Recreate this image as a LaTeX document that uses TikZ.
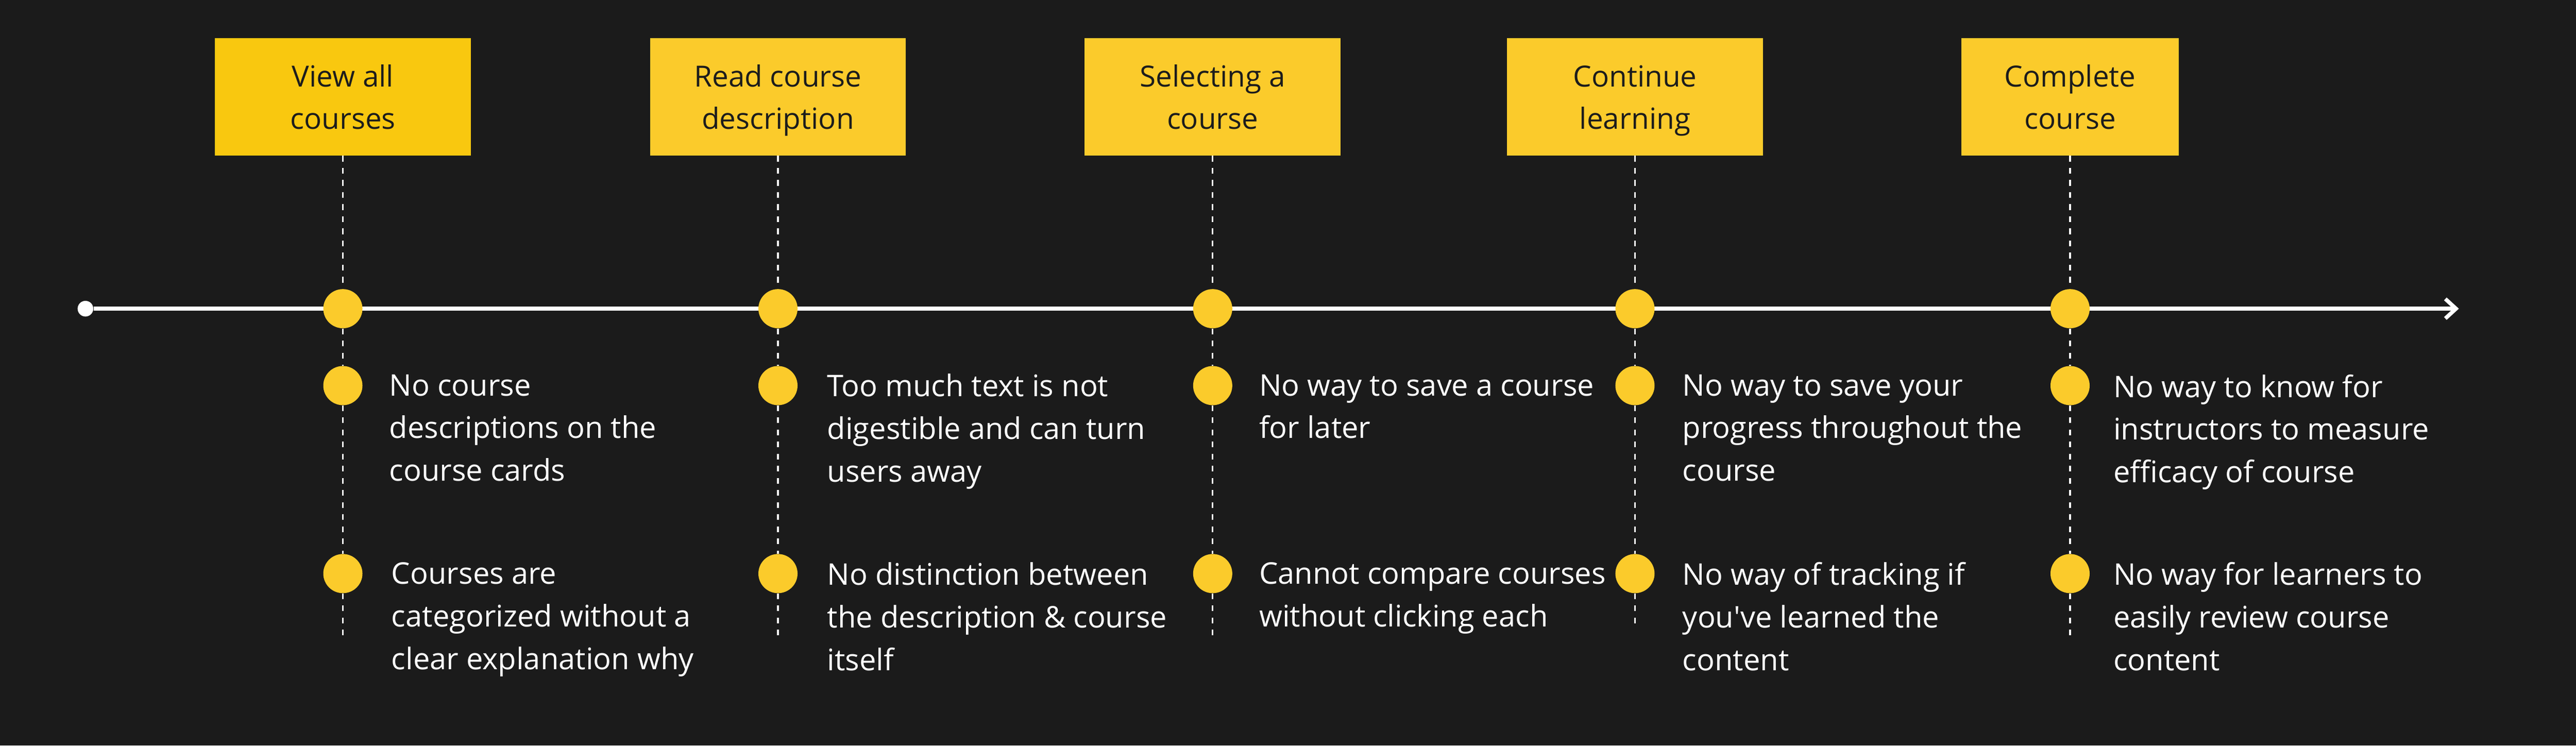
\documentclass[tikz,border=0pt]{standalone}
\usepackage{fontspec}
\setmainfont{Open Sans}
\usetikzlibrary{arrows.meta}
\definecolor{bgdark}{HTML}{1B1B1B}
\definecolor{stageyellow}{HTML}{FBCB2B}
\definecolor{firstyellow}{HTML}{F9C80F}
\definecolor{inkdark}{HTML}{1C1C1C}
\begin{document}
\begin{tikzpicture}[%
stage/.style={rectangle, fill=stageyellow, inner sep=0pt, minimum width=7.19cm,
minimum height=3.3cm, align=center, text=inkdark, font=\fontsize{23.3}{34.1}\selectfont,
text height=2.04cm, text depth=0.22cm},
marker/.style={circle, fill=stageyellow, inner sep=0pt, minimum size=1.1cm},
issue/.style={anchor=north west, inner sep=0pt, align=left, text=white,
font=\fontsize{23.8}{34.1}\selectfont},
guide/.style={white, line width=1.3pt, dash pattern=on 0.16cm off 0.18cm},
timeline/.style={white, line width=3.1pt, -{Straight Barb[length=0.3cm,width=0.55cm]}}]
\fill[bgdark] (0,0) rectangle (72.35,-20.94);
\node (start) at (2.40,-8.67) [circle, fill=white, inner sep=0pt, minimum size=0.44cm] {};
\coordinate (tlend) at (69.06,-8.67);
\draw[timeline] (start) -- (tlend);
\node (viewAll) at (9.63,-2.72) [stage, fill=firstyellow] {View all\\courses};
\node (readDesc) at (21.85,-2.72) [stage] {Read course\\description};
\node (selCourse) at (34.06,-2.72) [stage] {Selecting a\\course};
\node (contLearn) at (45.92,-2.72) [stage] {Continue\\learning};
\node (complCourse) at (58.14,-2.72) [stage, minimum width=6.12cm] {Complete\\course};
\node (mView) at (9.63,-8.67) [marker] {};
\node (mRead) at (21.85,-8.67) [marker] {};
\node (mSel) at (34.06,-8.67) [marker] {};
\node (mCont) at (45.92,-8.67) [marker] {};
\node (mCompl) at (58.14,-8.67) [marker] {};
\node (pView1) at (9.63,-10.83) [marker] {};
\node (pView2) at (9.63,-16.11) [marker] {};
\node (pRead1) at (21.85,-10.83) [marker] {};
\node (pRead2) at (21.85,-16.11) [marker] {};
\node (pSel1) at (34.06,-10.83) [marker] {};
\node (pSel2) at (34.06,-16.11) [marker] {};
\node (pCont1) at (45.92,-10.83) [marker] {};
\node (pCont2) at (45.92,-16.11) [marker] {};
\node (pCompl1) at (58.14,-10.83) [marker] {};
\node (pCompl2) at (58.14,-16.11) [marker] {};
\node (tView1) at (10.93,-10.51) [issue] {No course\\descriptions on the\\course cards};
\node (tView2) at (10.99,-15.79) [issue] {Courses are\\categorized without a\\clear explanation why};
\node (tRead1) at (23.23,-10.49) [issue] {Too much text is not\\digestible and can turn\\users away};
\node (tRead2) at (23.23,-15.79) [issue] {No distinction between\\the description \& course\\itself};
\node (tSel1) at (35.36,-10.51) [issue] {No way to save a course\\for later};
\node (tSel2) at (35.36,-15.79) [issue] {Cannot compare courses\\without clicking each};
\node (tCont1) at (47.25,-10.51) [issue] {No way to save your\\progress throughout the\\course};
\node (tCont2) at (47.25,-15.79) [issue] {No way of tracking if\\you\textquotesingle ve learned the\\content};
\node (tCompl1) at (59.35,-10.51) [issue] {No way to know for\\instructors to measure\\efficacy of course};
\node (tCompl2) at (59.35,-15.79) [issue] {No way for learners to\\easily review course\\content};
\coordinate (eView) at (9.63,-17.87);
\coordinate (eRead) at (21.85,-17.87);
\coordinate (eSel) at (34.06,-17.87);
\coordinate (eCont) at (45.92,-17.63);
\coordinate (eCompl) at (58.14,-17.87);
\draw[guide] (viewAll.south) -- (mView.north);
\draw[guide] (mView.south) -- (pView1.north);
\draw[guide] (pView1.south) -- (pView2.north);
\draw[guide] (pView2.south) -- (eView);
\draw[guide] (readDesc.south) -- (mRead.north);
\draw[guide] (mRead.south) -- (pRead1.north);
\draw[guide] (pRead1.south) -- (pRead2.north);
\draw[guide] (pRead2.south) -- (eRead);
\draw[guide] (selCourse.south) -- (mSel.north);
\draw[guide] (mSel.south) -- (pSel1.north);
\draw[guide] (pSel1.south) -- (pSel2.north);
\draw[guide] (pSel2.south) -- (eSel);
\draw[guide] (contLearn.south) -- (mCont.north);
\draw[guide] (mCont.south) -- (pCont1.north);
\draw[guide] (pCont1.south) -- (pCont2.north);
\draw[guide] (pCont2.south) -- (eCont);
\draw[guide] (complCourse.south) -- (mCompl.north);
\draw[guide] (mCompl.south) -- (pCompl1.north);
\draw[guide] (pCompl1.south) -- (pCompl2.north);
\draw[guide] (pCompl2.south) -- (eCompl);
\end{tikzpicture}
\end{document}
